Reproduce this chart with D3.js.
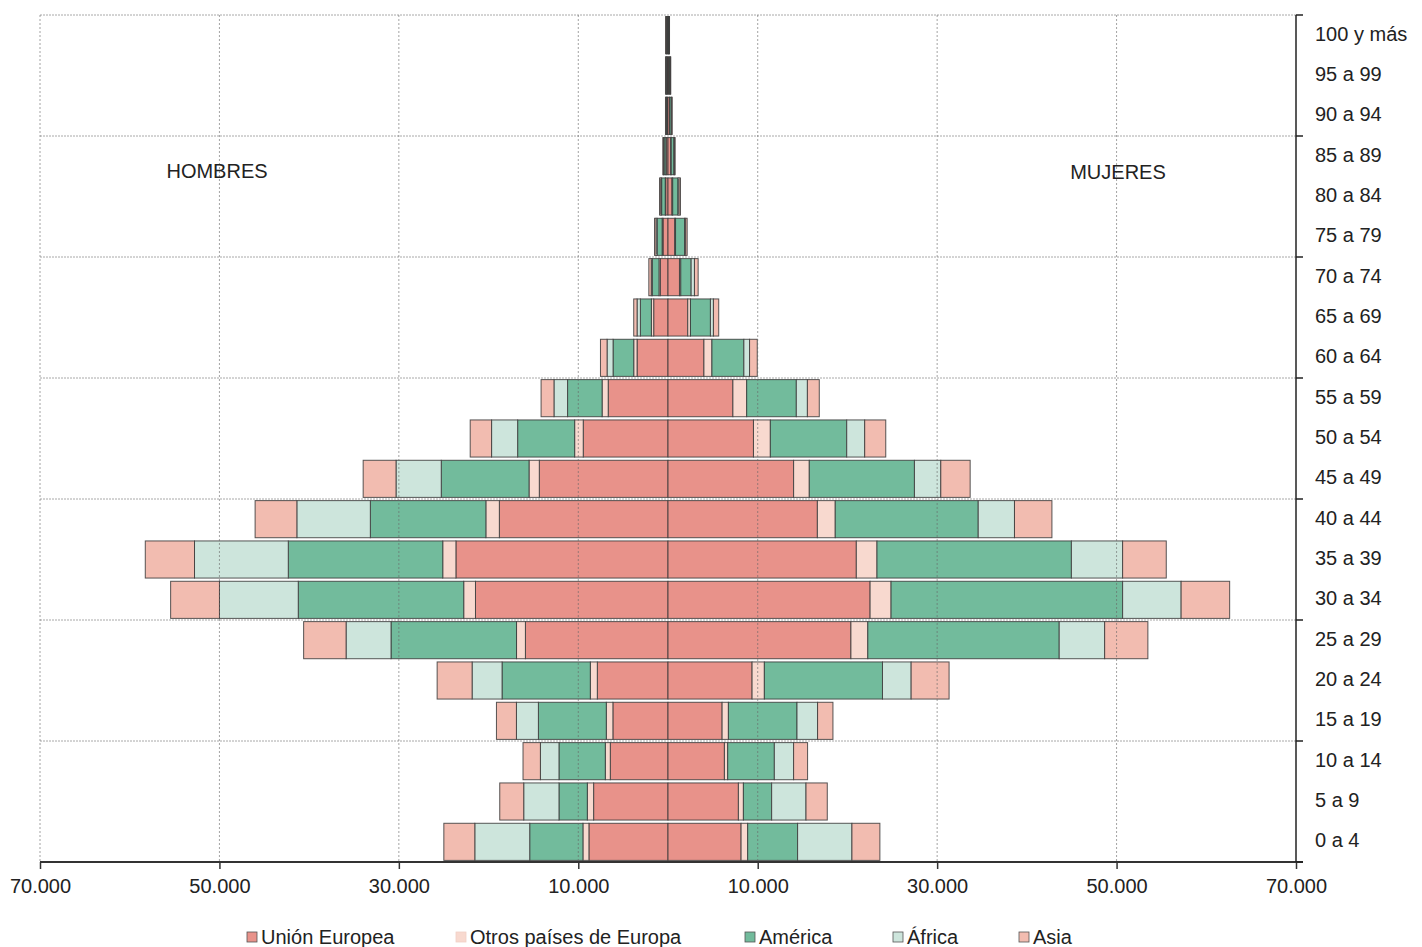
<!DOCTYPE html>
<html>
<head>
<meta charset="utf-8">
<script src="https://cdn.jsdelivr.net/npm/d3@7"></script>
<style>
  body { margin: 0; background: #fff; }
  text { font-family: "Liberation Sans", Arial, sans-serif; fill: #222; }
</style>
</head>
<body>
<svg id="chart" width="1422" height="947"></svg>
<script>
// Grupos de edad, de abajo hacia arriba.
const ageGroups = ["0 a 4", "5 a 9", "10 a 14", "15 a 19", "20 a 24", "25 a 29", "30 a 34",
    "35 a 39", "40 a 44", "45 a 49", "50 a 54", "55 a 59", "60 a 64", "65 a 69", "70 a 74",
    "75 a 79", "80 a 84", "85 a 89", "90 a 94", "95 a 99", "100 y más"];

const seriesNames = ["Unión Europea", "Otros países de Europa", "América", "África", "Asia"];
const seriesColors = ["#e8928a", "#f8d9cf", "#72bb9c", "#cde5dc", "#f2bcb0"];

// Hombres (lado izquierdo).
const menUE       = [8815, 8292, 6433, 6144, 7880, 15894, 21459, 23640, 18799, 14346, 9449, 6667, 3450, 1595, 855, 556, 260, 200, 100, 100, 90];
const menOtrosEur = [668, 701, 557, 735, 779, 991, 1313, 1469, 1503, 1146, 957, 679, 371, 260, 150, 100, 50, 40, 20, 20, 20];
const menAmerica  = [5932, 3161, 5164, 7568, 9839, 13990, 18442, 17218, 12877, 9783, 6355, 3851, 2304, 1224, 742, 556, 400, 200, 80, 80, 70];
const menAfrica   = [6121, 3929, 2070, 2449, 3339, 5009, 8782, 10451, 8192, 5042, 2905, 1514, 668, 371, 120, 130, 100, 60, 30, 30, 40];
const menAsia     = [3450, 2671, 1937, 2226, 3896, 4730, 5443, 5487, 4652, 3662, 2382, 1436, 735, 371, 270, 160, 135, 80, 50, 50, 50];

// Mujeres (lado derecho).
const womenUE       = [8147, 7847, 6288, 6032, 9372, 20390, 22527, 20991, 16650, 14002, 9527, 7235, 4006, 2204, 1280, 742, 445, 300, 170, 110, 60];
const womenOtrosEur = [735, 557, 367, 701, 1369, 1881, 2337, 2304, 1992, 1747, 1881, 1536, 890, 300, 145, 100, 80, 60, 30, 20, 15];
const womenAmerica  = [5565, 3150, 5198, 7646, 13167, 21336, 25810, 21670, 15938, 11720, 8514, 5532, 3562, 2226, 1157, 1000, 590, 300, 170, 110, 60];
const womenAfrica   = [6055, 3829, 2148, 2293, 3194, 5064, 6522, 5710, 4040, 2938, 2003, 1235, 634, 334, 367, 130, 120, 60, 40, 30, 15];
const womenAsia     = [3116, 2371, 1558, 1714, 4229, 4819, 5409, 4864, 4174, 3272, 2348, 1324, 857, 590, 412, 165, 155, 80, 60, 40, 20];

const xTicks = [-70000, -50000, -30000, -10000, 10000, 30000, 50000, 70000];

const svg = d3.select("#chart");
const plot = { left: 40, right: 1296, top: 15, bottom: 862 };
const fontSize = 20;

const x = d3.scaleLinear().domain([-70000, 70000]).range([plot.left, plot.right]);
const y = d3.scaleBand()
    .domain(ageGroups.slice().reverse())
    .range([plot.top, plot.bottom])
    .paddingInner(0.08)
    .paddingOuter(0.04);

const locale = d3.formatLocale({ decimal: ",", thousands: ".", grouping: [3], currency: ["", ""] });
const fmt = locale.format(",");

function buildRows(arrays) {
    return ageGroups.map(function(age, i) {
        const row = { age: age };
        seriesNames.forEach(function(name, k) { row[name] = arrays[k][i]; });
        return row;
    });
}

const menRows = buildRows([menUE, menOtrosEur, menAmerica, menAfrica, menAsia]);
const womenRows = buildRows([womenUE, womenOtrosEur, womenAmerica, womenAfrica, womenAsia]);
const stack = d3.stack().keys(seriesNames);

// Lineas horizontales de la rejilla cada 3 grupos.
const step = (plot.bottom - plot.top) / ageGroups.length;
const hLines = d3.range(0, ageGroups.length, 3).map(function(i) { return plot.top + i * step; });
svg.append("g").selectAll("line")
    .data(hLines)
    .enter().append("line")
    .attr("x1", plot.left).attr("x2", plot.right)
    .attr("y1", function(d) { return d; }).attr("y2", function(d) { return d; })
    .attr("stroke", "#a8a8a8").attr("stroke-dasharray", "2,1").attr("stroke-width", 1);

// Barras apiladas.
function drawSide(rows, sign) {
    const layers = stack(rows);
    const g = svg.append("g");
    layers.forEach(function(layer, k) {
        g.selectAll(null)
            .data(layer)
            .enter().append("rect")
            .attr("x", function(d) { return Math.min(x(sign * d[0]), x(sign * d[1])); })
            .attr("width", function(d) { return Math.abs(x(sign * d[1]) - x(sign * d[0])); })
            .attr("y", function(d) { return y(d.data.age); })
            .attr("height", y.bandwidth())
            .attr("fill", seriesColors[k])
            .attr("stroke", "#3a3a3a")
            .attr("stroke-width", 1)
            .attr("stroke-opacity", 0.85);
    });
}
drawSide(menRows, -1);
drawSide(womenRows, 1);

// Lineas verticales de la rejilla (por encima de las barras).
svg.append("g").selectAll("line")
    .data(xTicks.filter(function(v) { return v !== 70000; }))
    .enter().append("line")
    .attr("x1", function(d) { return x(d); }).attr("x2", function(d) { return x(d); })
    .attr("y1", plot.top).attr("y2", plot.bottom)
    .attr("stroke", "#666").attr("stroke-opacity", 0.6)
    .attr("stroke-dasharray", "2,2").attr("stroke-width", 1);

// Eje inferior.
const xAxis = svg.append("g")
    .attr("transform", "translate(0," + plot.bottom + ")")
    .call(d3.axisBottom(x).tickValues(xTicks).tickSize(7).tickPadding(10)
        .tickFormat(function(d) { return fmt(Math.abs(d)); }));
xAxis.select(".domain").remove();
xAxis.selectAll(".tick line").attr("stroke", "#333").attr("stroke-width", 1.5);
xAxis.selectAll("text").attr("font-size", fontSize).attr("fill", "#222")
    .style("font-family", "'Liberation Sans', Arial, sans-serif");
xAxis.append("line")
    .attr("x1", plot.left).attr("x2", plot.right + 7)
    .attr("y1", 0).attr("y2", 0)
    .attr("stroke", "#333").attr("stroke-width", 2);

// Eje derecho con las etiquetas de edad.
const yAxis = svg.append("g");
yAxis.append("line")
    .attr("x1", plot.right).attr("x2", plot.right)
    .attr("y1", plot.top).attr("y2", plot.bottom)
    .attr("stroke", "#222").attr("stroke-width", 1.5);
yAxis.selectAll(".ytick")
    .data(hLines.concat([plot.bottom]))
    .enter().append("line")
    .attr("x1", plot.right).attr("x2", plot.right + 7)
    .attr("y1", function(d) { return d; }).attr("y2", function(d) { return d; })
    .attr("stroke", "#222").attr("stroke-width", 1.5);
yAxis.selectAll("text")
    .data(ageGroups)
    .enter().append("text")
    .attr("x", plot.right + 19)
    .attr("y", function(d) { return y(d) + y.bandwidth() / 2 - 1.5; })
    .attr("dy", "0.35em")
    .attr("font-size", fontSize)
    .text(function(d) { return d; });

// Titulos de cada lado.
svg.append("text").attr("x", 217).attr("y", 171).attr("dy", "0.35em")
    .attr("text-anchor", "middle").attr("font-size", fontSize).text("HOMBRES");
svg.append("text").attr("x", 1118).attr("y", 172).attr("dy", "0.35em")
    .attr("text-anchor", "middle").attr("font-size", fontSize).text("MUJERES");

// Leyenda.
const legendX = [247, 456, 745, 893, 1019];
const legend = svg.append("g");
seriesNames.forEach(function(name, k) {
    legend.append("rect")
        .attr("x", legendX[k]).attr("y", 932)
        .attr("width", 10).attr("height", 10)
        .attr("fill", seriesColors[k])
        .attr("stroke", k === 1 ? "#f0d0c6" : "#555").attr("stroke-width", 0.8);
    legend.append("text")
        .attr("x", legendX[k] + 14).attr("y", 937).attr("dy", "0.35em")
        .attr("font-size", fontSize)
        .text(name);
});
</script>
</body>
</html>
